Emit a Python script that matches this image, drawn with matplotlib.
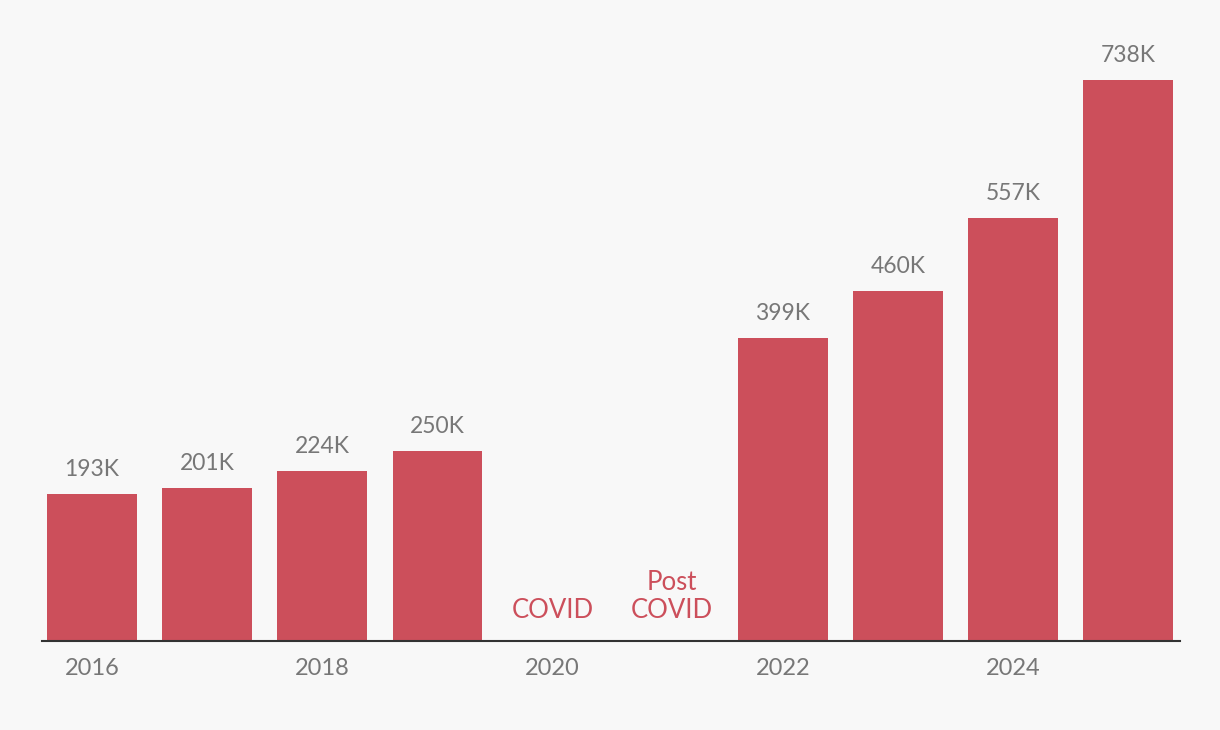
import matplotlib.pyplot as plt

years = [2016, 2017, 2018, 2019, 2020, 2021, 2022, 2023, 2024, 2025]
values = [193, 201, 224, 250, None, None, 399, 460, 557, 738]
tick_years = [2016, 2018, 2020, 2022, 2024]
notes = {2020: "COVID", 2021: "Post\nCOVID"}

red = "#cc4f5b"
grey = "#777777"
bg = "#f8f8f8"

plt.rcParams['font.family'] = ['Lato', 'DejaVu Sans']

fig = plt.figure(figsize=(12.2, 7.3), dpi=100, facecolor=bg)
ax = fig.add_axes([0.0344, 0.1219, 0.9328, 0.833])
ax.set_facecolor(bg)

bar_years = [y for y, v in zip(years, values) if v is not None]
bar_vals = [v for v in values if v is not None]
ax.bar(bar_years, bar_vals, width=0.78, color=red)

for y, v in zip(bar_years, bar_vals):
    ax.annotate(f"{v}K", (y, v), xytext=(0, 10), textcoords="offset points",
                ha="center", va="bottom", fontsize=16.5, color=grey)

for y, t in notes.items():
    dx = 3 if "\n" in t else 0
    ax.annotate(t, (y, 0), xytext=(dx, 13), textcoords="offset points",
                ha="center", va="bottom", fontsize=18.5, color=red, linespacing=1.15)

ax.set_xlim(2016 - 0.435, 2025 + 0.45)
ax.set_ylim(0, 800)
ax.set_xticks(tick_years)
ax.set_xticklabels([str(t) for t in tick_years], fontsize=17, color=grey)
ax.tick_params(axis="x", length=0, pad=12)
ax.set_yticks([])
for s in ["top", "right", "left"]:
    ax.spines[s].set_visible(False)
ax.spines["bottom"].set_color("#333333")
ax.spines["bottom"].set_linewidth(1.5)

fig.savefig("out.png", dpi=100, facecolor=bg)
